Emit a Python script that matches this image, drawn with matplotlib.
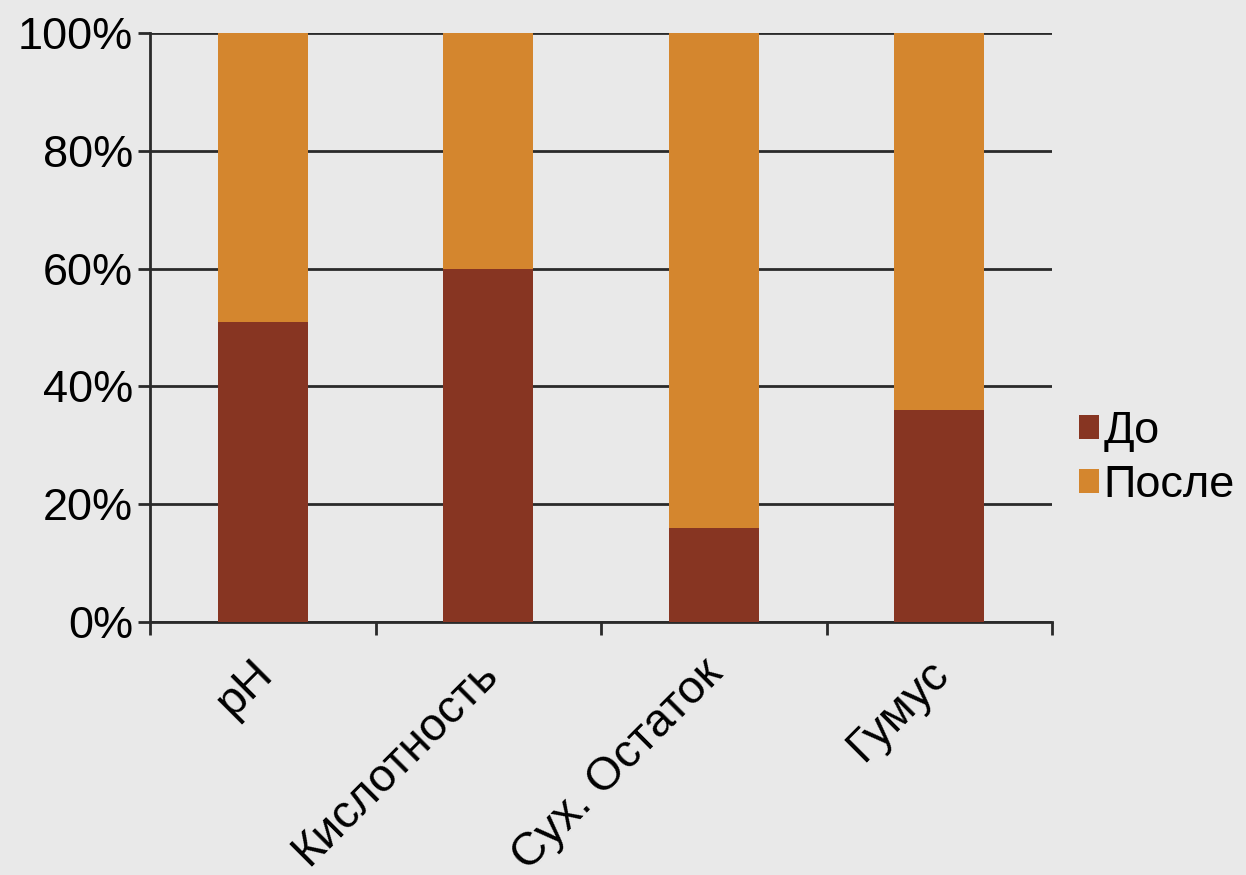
import numpy as np
import matplotlib.pyplot as plt
import matplotlib.transforms as mtransforms
from matplotlib.ticker import FixedLocator

categories = ['pH', 'Кислотность', 'Сух. Остаток', 'Гумус']
do_vals = [51, 60, 16, 36]          # До, %
posle_vals = [49, 40, 84, 64]        # После, %
yticks = [0, 20, 40, 60, 80, 100]
ytick_labels = ['0%', '20%', '40%', '60%', '80%', '100%']

c_do = '#873522'
c_posle = '#d4862e'
bg = '#e9e9e9'

plt.rcParams['font.family'] = ['Liberation Sans', 'DejaVu Sans']

fig = plt.figure(figsize=(12.46, 8.75), dpi=100)
fig.patch.set_facecolor(bg)
ax = fig.add_axes([0.1204, 0.2891, 0.7239, 0.6732])
ax.set_facecolor(bg)

x = np.arange(len(categories))
b1 = ax.bar(x, do_vals, width=0.4, color=c_do, label='До', zorder=3)
b2 = ax.bar(x, posle_vals, width=0.4, bottom=do_vals, color=c_posle, label='После', zorder=3)

ax.set_xlim(-0.5, len(categories) - 0.5)
ax.set_ylim(0, 100)
ax.set_yticks(yticks)
ax.set_yticklabels(ytick_labels, fontsize=32.5)
ax.yaxis.grid(True, color='#2a2a2a', linewidth=2, zorder=1)
ax.set_axisbelow(True)

ax.set_xticks(x)
ax.set_xticklabels(categories, fontsize=33.5, rotation=45, ha='right',
                   rotation_mode='anchor')
ax.tick_params(axis='x', which='major', length=0, pad=4)
# move the rotated labels along their direction, like the original
offset = mtransforms.ScaledTranslation(-13 / 100, -24 / 100, fig.dpi_scale_trans)
for lbl in ax.get_xticklabels():
    lbl.set_transform(lbl.get_transform() + offset)
ax.xaxis.set_minor_locator(FixedLocator(np.arange(-0.5, len(categories), 1.0)))
ax.tick_params(axis='x', which='minor', length=9, width=2, direction='out', color='#2a2a2a')
ax.tick_params(axis='y', length=9, width=2, direction='out', color='#2a2a2a', pad=3)

for s in ['top', 'right']:
    ax.spines[s].set_visible(False)
for s in ['left', 'bottom']:
    ax.spines[s].set_linewidth(2)
    ax.spines[s].set_color('#2a2a2a')

leg = fig.legend(handles=[b1, b2], loc='center left', bbox_to_anchor=(0.866, 0.476),
                 frameon=False, fontsize=32.5, handlelength=0.45, handleheight=0.45,
                 handletextpad=0.1, labelspacing=0.3, borderpad=0, borderaxespad=0)

fig.savefig('out.png', dpi=100, facecolor=bg)
